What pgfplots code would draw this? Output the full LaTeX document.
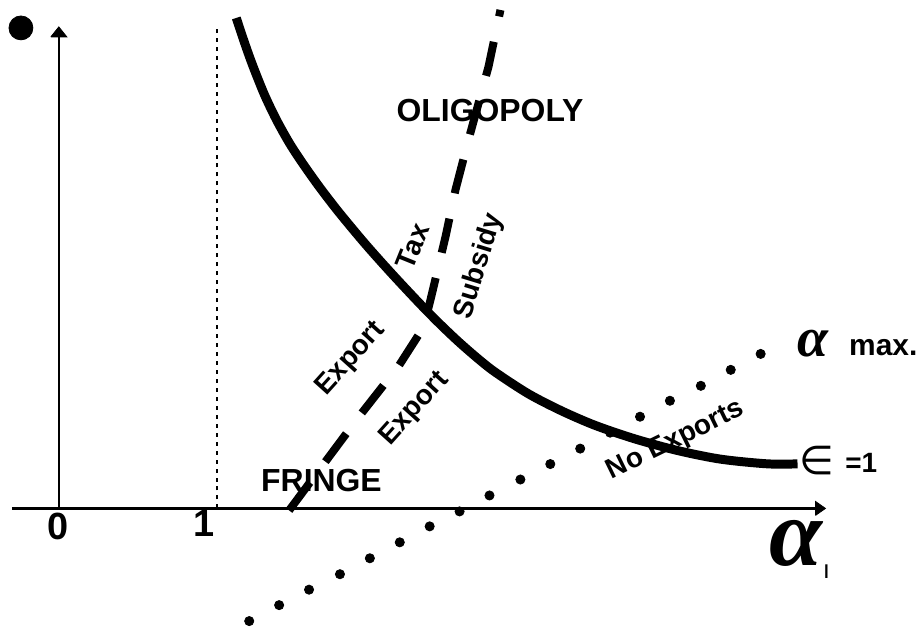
\documentclass[border=0pt]{standalone}
\usepackage{pgfplots}
\pgfplotsset{compat=1.18}
\usepackage{fontspec}
\setmainfont{Liberation Sans}
\newfontfamily\grk{Liberation Serif}
\newfontfamily\sym{DejaVu Sans}
\begin{document}
\begin{tikzpicture}
\begin{axis}[scale only axis, width=462pt, height=316pt,
  xmin=0, xmax=924, ymin=0, ymax=632, hide axis, clip=false]
\addplot[draw=none, forget plot] coordinates {(0,0) (924,632)};
\addplot[black, line width=1pt] coordinates {(59,122) (59,596)};
\addplot[black, fill=black] coordinates {(51,595) (59,605) (67,595) (51,595)};
\addplot[black, line width=1.5pt] coordinates {(12,122) (820,122)};
\addplot[black, fill=black] coordinates {(818,115) (828,122) (818,129) (818,115)};
\addplot[black, line width=1pt, dash pattern=on 2pt off 2.5pt] coordinates {(218,122) (218,604)};
\addplot[only marks, mark=*, mark size=6pt, black] coordinates {(21,604)};
\addplot[black, line width=4.5pt, smooth, tension=0.5] coordinates {
(237,614)(245,590)(253,567.6)(265,537.6)(277,512.4)(290,489)(303,469)(320,445)
(340,419)(367,386.6)(393,357.5)(420,328.6)(440,308.2)(460,289.2)(480,271.8)
(497,258.5)(530,237)(563,220)(597,205.3)(637,191.7)(680,180)(723,171.4)(770,166.7)(800,166.7)};
\addplot[black, line width=4pt, dash pattern=on 17.5pt off 13pt] coordinates {
(290,120)(360,214)(400,265)(425,304)(432,332)(447,395)(457,442)(470,492)(481,532)(490,565)(502,622)};
\addplot[only marks, mark=*, mark size=2.3pt, black] coordinates {
(250,9)(280,25)(310,40.5)(341,56)(371,72)(401,88)(431,104)(461,119)(491,135)
(522,151)(552,166.5)(582,182)(612,198)(642,214)(672,230)(703,245)(733,261)(763,277)};
\node[font=\bfseries\fontsize{19pt}{19pt}\selectfont] at (axis cs:58.5,104) {0};
\node[font=\bfseries\fontsize{19pt}{19pt}\selectfont] at (axis cs:205,107) {1};
\node[font=\bfseries\fontsize{16pt}{16pt}\selectfont] at (axis cs:322.5,149.5) {FRINGE};
\node[font=\bfseries\fontsize{16pt}{16pt}\selectfont] at (axis cs:491.5,521) {OLIGOPOLY};
\node[font=\bfseries\fontsize{14pt}{14pt}\selectfont, rotate=48] at (axis cs:352,272) {Export};
\node[font=\bfseries\fontsize{14pt}{14pt}\selectfont, rotate=48] at (axis cs:416,222) {Export};
\node[font=\bfseries\fontsize{14pt}{14pt}\selectfont, rotate=68] at (axis cs:414,385) {Tax};
\node[font=\bfseries\fontsize{14pt}{14pt}\selectfont, rotate=73] at (axis cs:481,365) {Subsidy};
\node[font=\bfseries\fontsize{14pt}{14pt}\selectfont, rotate=26] at (axis cs:678,190) {No Exports};
\node[font=\grk\bfseries\itshape\fontsize{28pt}{28pt}\selectfont] at (axis cs:815,287) {α};
\node[font=\bfseries\fontsize{15pt}{15pt}\selectfont] at (axis cs:886,283) {max.};
\node[font=\sym\fontsize{20pt}{20pt}\selectfont] at (axis cs:819,170) {∈};
\node[font=\bfseries\fontsize{14pt}{14pt}\selectfont] at (axis cs:864,168) {=1};
\node[font=\grk\bfseries\itshape\fontsize{48pt}{48pt}\selectfont] at (axis cs:798,87) {α};
\node[font=\fontsize{13pt}{13pt}\selectfont] at (axis cs:829,59) {ı};
\end{axis}
\end{tikzpicture}
\end{document}
